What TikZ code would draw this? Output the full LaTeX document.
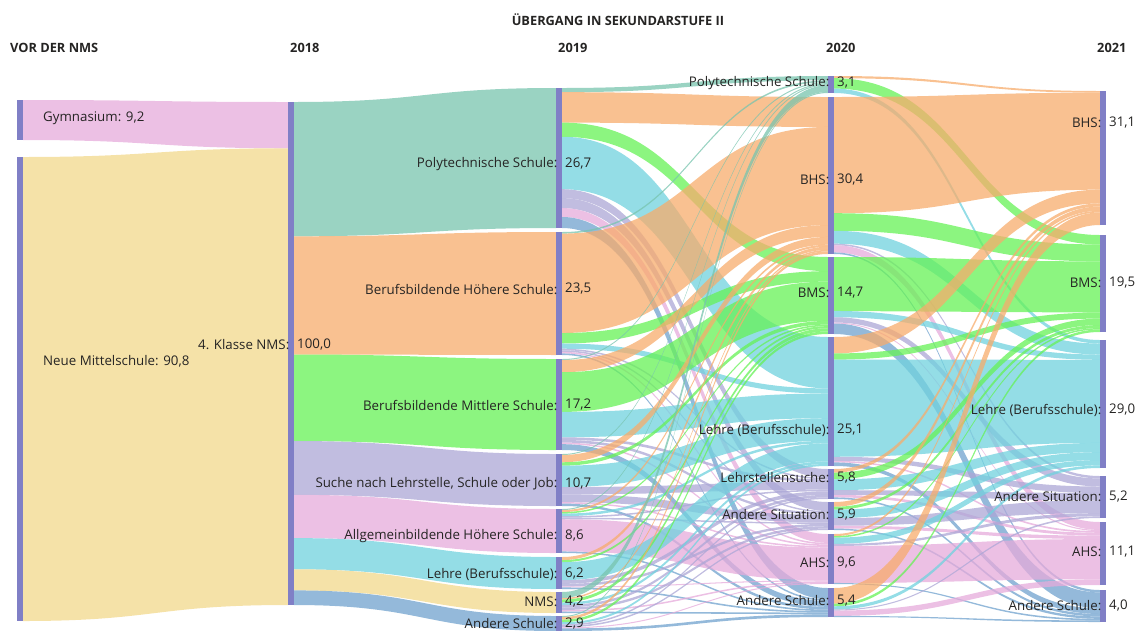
\documentclass[tikz,border=0pt]{standalone}
\usepackage{fontspec}
\setmainfont{Open Sans}
\usepackage{xcolor}
\usetikzlibrary{positioning}

\definecolor{barcol}{RGB}{128,127,198}
\definecolor{txtcol}{RGB}{37,36,35}
\definecolor{polycol}{RGB}{120,196,174}
\definecolor{bhscol}{RGB}{247,172,108}
\definecolor{bmscol}{RGB}{102,242,86}
\definecolor{lehcol}{RGB}{112,210,222}
\definecolor{suchcol}{RGB}{172,167,214}
\definecolor{ahscol}{RGB}{230,171,219}
\definecolor{andcol}{RGB}{112,162,206}
\definecolor{nmscol}{RGB}{242,216,139}

\tikzset{
    band/.style={fill opacity=0.75},
    bar/.style={fill=barcol},
    lbl/.style={font=\fontsize{13.3}{15}\selectfont, text=txtcol, inner sep=0pt},
    head/.style={font=\fontsize{12.8}{15}\selectfont\bfseries, text=txtcol, inner sep=0pt}
}

% node data: x, running offsets out/in, px per unit
\newcommand{\sknode}[5]{%
    \expandafter\xdef\csname sk@#1@x\endcsname{#2}%
    \expandafter\xdef\csname sk@#1@out\endcsname{#3}%
    \expandafter\xdef\csname sk@#1@in\endcsname{#3}%
    \pgfmathsetmacro\sktmp{(#4-#3)/#5}%
    \expandafter\xdef\csname sk@#1@s\endcsname{\sktmp}%
}

% one band from #1 to #2, value #3, colour #4
\newcommand{\skflow}[4]{%
    \edef\sksa{\csname sk@#1@s\endcsname}%
    \edef\sksb{\csname sk@#2@s\endcsname}%
    \edef\skya{\csname sk@#1@out\endcsname}%
    \edef\skyc{\csname sk@#2@in\endcsname}%
    \pgfmathsetmacro\skyb{\skya+#3*\sksa}%
    \pgfmathsetmacro\skyd{\skyc+#3*\sksb}%
    \expandafter\xdef\csname sk@#1@out\endcsname{\skyb}%
    \expandafter\xdef\csname sk@#2@in\endcsname{\skyd}%
    \pgfmathsetmacro\skxa{\csname sk@#1@x\endcsname+\barwidth}%
    \edef\skxb{\csname sk@#2@x\endcsname}%
    \pgfmathsetmacro\skxm{(\skxa+\skxb)/2}%
    \fill[band, fill=#4] (\skxa,\skya) .. controls (\skxm,\skya) and (\skxm,\skyc) .. (\skxb,\skyc)
        -- (\skxb,\skyd) .. controls (\skxm,\skyd) and (\skxm,\skyb) .. (\skxa,\skyb) -- cycle;%
}

\begin{document}
\begin{tikzpicture}[x=1pt,y=-1pt]

            % Settings
            \def\barwidth{6}
            \useasboundingbox (0,0) rectangle (1137,630);

            % Nodes: id/x/top/bottom/value
            \def\nodelist{gym0/17/100/140/9.2, nms0/17/157/621/90.8,
                kl18/288/102/605/100,
                poly19/556/88/228/26.7, bhs19/556/232/355/23.5, bms19/556/359/450/17.2, such19/556/454/506/10.7,
                ahs19/556/509/553/8.6, leh19/556/557/589/6.2, nms19/556/592/613/4.2, and19/556/616/631/2.9,
                poly20/828/76/93/3.1, bhs20/828/97/254/30.4, bms20/828/257/334/14.7, leh20/828/337/466/25.1,
                lsu20/828/469/499/5.8, asi20/828/502/530/5.9, ahs20/828/534/584/9.6, asc20/828/588/617/5.4,
                bhs21/1100/91/225/31.1, bms21/1100/235/332/19.5, leh21/1100/340/468/29.1,
                asi21/1100/476/518/5.2, ahs21/1100/522/585/11.1, asc21/1100/590/622/4.0}
            \foreach \id/\x/\ya/\yb/\val in \nodelist {
                    \sknode{\id}{\x}{\ya}{\yb}{\val}
                }

            % Vor der NMS -> 2018
            \foreach \src/\tgt/\val/\col in {gym0/kl18/9.2/ahscol, nms0/kl18/90.8/nmscol} {
                    \skflow{\src}{\tgt}{\val}{\col}
                }

            % 2018 -> 2019
            \foreach \tgt/\val/\col in {poly19/26.7/polycol, bhs19/23.5/bhscol, bms19/17.2/bmscol, such19/10.7/suchcol,
                    ahs19/8.6/ahscol, leh19/6.2/lehcol, nms19/4.2/nmscol, and19/2.9/andcol} {
                    \skflow{kl18}{\tgt}{\val}{\col}
                }

            % 2019 -> 2020
            \foreach \src/\tgt/\val/\col in {
                    poly19/poly20/0.8/polycol, poly19/bhs20/5.8/bhscol, poly19/bms20/2.7/bmscol, poly19/leh20/10.0/lehcol,
                    poly19/lsu20/1.7/suchcol, poly19/asi20/1.9/suchcol, poly19/ahs20/1.7/ahscol, poly19/asc20/2.1/andcol,
                    bhs19/poly20/0.3/polycol, bhs19/bhs20/19.0/bhscol, bhs19/bms20/2.0/bmscol, bhs19/leh20/1.0/lehcol,
                    bhs19/lsu20/0.3/suchcol, bhs19/asi20/0.3/suchcol, bhs19/ahs20/0.3/ahscol, bhs19/asc20/0.3/andcol,
                    bms19/poly20/0.2/polycol, bms19/bhs20/2.3/bhscol, bms19/bms20/7.5/bmscol, bms19/leh20/4.8/lehcol,
                    bms19/lsu20/0.5/suchcol, bms19/asi20/0.5/suchcol, bms19/ahs20/0.3/ahscol, bms19/asc20/1.1/andcol,
                    such19/poly20/0.2/polycol, such19/bhs20/1.5/bhscol, such19/bms20/0.7/bmscol, such19/leh20/4.4/lehcol,
                    such19/lsu20/1.5/suchcol, such19/asi20/1.6/suchcol, such19/ahs20/0.3/ahscol, such19/asc20/0.5/andcol,
                    ahs19/poly20/0.2/polycol, ahs19/bhs20/0.4/bhscol, ahs19/bms20/0.3/bmscol, ahs19/leh20/0.5/lehcol,
                    ahs19/lsu20/0.3/suchcol, ahs19/asi20/0.3/suchcol, ahs19/ahs20/6.3/ahscol, ahs19/asc20/0.3/andcol,
                    leh19/bhs20/0.6/bhscol, leh19/bms20/0.4/bmscol, leh19/leh20/3.5/lehcol,
                    leh19/lsu20/0.7/suchcol, leh19/asi20/0.5/suchcol, leh19/ahs20/0.2/ahscol, leh19/asc20/0.3/andcol,
                    nms19/poly20/1.2/polycol, nms19/bhs20/0.3/bhscol, nms19/bms20/0.6/bmscol, nms19/leh20/0.5/lehcol,
                    nms19/lsu20/0.5/suchcol, nms19/asi20/0.5/suchcol, nms19/ahs20/0.3/ahscol, nms19/asc20/0.3/andcol,
                    and19/poly20/0.2/polycol, and19/bhs20/0.5/bhscol, and19/bms20/0.5/bmscol, and19/leh20/0.4/lehcol,
                    and19/lsu20/0.3/suchcol, and19/asi20/0.3/suchcol, and19/ahs20/0.2/ahscol, and19/asc20/0.5/andcol} {
                    \skflow{\src}{\tgt}{\val}{\col}
                }

            % 2020 -> 2021
            \foreach \src/\tgt/\val/\col in {
                    poly20/bhs21/0.4/bhscol, poly20/bms21/1.9/bmscol, poly20/leh21/0.8/lehcol,
                    bhs20/bhs21/22.5/bhscol, bhs20/bms21/3.4/bmscol, bhs20/leh21/2.5/lehcol,
                    bhs20/asi21/0.3/suchcol, bhs20/ahs21/1.4/ahscol, bhs20/asc21/0.3/andcol,
                    bms20/bms21/10.3/bmscol, bms20/leh21/1.2/lehcol,
                    bms20/asi21/1.0/suchcol, bms20/ahs21/0.2/ahscol, bms20/asc21/2.0/andcol,
                    leh20/bhs21/3.2/bhscol, leh20/bms21/1.2/bmscol, leh20/leh21/18.9/lehcol,
                    leh20/asi21/0.8/suchcol, leh20/ahs21/0.3/ahscol, leh20/asc21/0.7/andcol,
                    lsu20/bhs21/0.7/bhscol, lsu20/bms21/1.3/bmscol, lsu20/leh21/2.1/lehcol,
                    lsu20/asi21/0.9/suchcol, lsu20/ahs21/0.5/ahscol, lsu20/asc21/0.3/andcol,
                    asi20/bhs21/1.0/bhscol, asi20/bms21/0.6/bmscol, asi20/leh21/1.8/lehcol,
                    asi20/asi21/1.6/suchcol, asi20/ahs21/0.6/ahscol, asi20/asc21/0.3/andcol,
                    ahs20/bhs21/0.4/bhscol, ahs20/bms21/0.3/bmscol, ahs20/leh21/1.2/lehcol,
                    ahs20/asi21/0.4/suchcol, ahs20/ahs21/7.1/ahscol, ahs20/asc21/0.2/andcol,
                    asc20/bhs21/2.9/bhscol, asc20/bms21/0.5/bmscol, asc20/leh21/0.6/lehcol,
                    asc20/asi21/0.2/suchcol, asc20/ahs21/1.0/ahscol, asc20/asc21/0.2/andcol} {
                    \skflow{\src}{\tgt}{\val}{\col}
                }

            % Bars on top of the bands
            \foreach \id/\x/\ya/\yb/\val in \nodelist {
                    \fill[bar] (\x,\ya) rectangle (\x+\barwidth,\yb);
                }

            % Headings
            \node[head] (title) at (618,20) {ÜBERGANG IN SEKUNDARSTUFE II};
            \foreach \x/\year in {10/VOR DER NMS, 290/2018, 558/2019, 826/2020, 1097/2021} {
                    \node[head, anchor=west] at (\x,48) {\year};
                }

            % Labels of the first column
            \node[lbl, anchor=west] (gymlbl) at (43,118) {Gymnasium: 9,2};
            \node[lbl, anchor=west] (nmslbl) at (43,361) {Neue Mittelschule: 90,8};

            % Labels: name left of the bar, value right of it
            \foreach \x/\y/\name/\num in {288/345/4. Klasse NMS/{100,0},
                    556/164/Polytechnische Schule/{26,7}, 556/289/Berufsbildende Höhere Schule/{23,5},
                    556/405/Berufsbildende Mittlere Schule/{17,2}, 556/484/{Suche nach Lehrstelle, Schule oder Job}/{10,7},
                    556/536/Allgemeinbildende Höhere Schule/{8,6}, 556/574/Lehre (Berufsschule)/{6,2},
                    556/602/NMS/{4,2}, 556/624/Andere Schule/{2,9},
                    828/83/Polytechnische Schule/{3,1}, 828/180/BHS/{30,4}, 828/293/BMS/{14,7},
                    828/430/Lehre (Berufsschule)/{25,1}, 828/478/Lehrstellensuche/{5,8}, 828/515/Andere Situation/{5,9},
                    828/563/AHS/{9,6}, 828/601/Andere Schule/{5,4},
                    1100/123/BHS/{31,1}, 1100/283/BMS/{19,5}, 1100/410/Lehre (Berufsschule)/{29,0},
                    1100/497/Andere Situation/{5,2}, 1100/552/AHS/{11,1}, 1100/606/Andere Schule/{4,0}} {
                    \node[lbl, anchor=east] at (\x+1.5,\y) {\name:};
                    \node[lbl, anchor=west] at (\x+\barwidth+3,\y) {\num};
                }
        \end{tikzpicture}
\end{document}
